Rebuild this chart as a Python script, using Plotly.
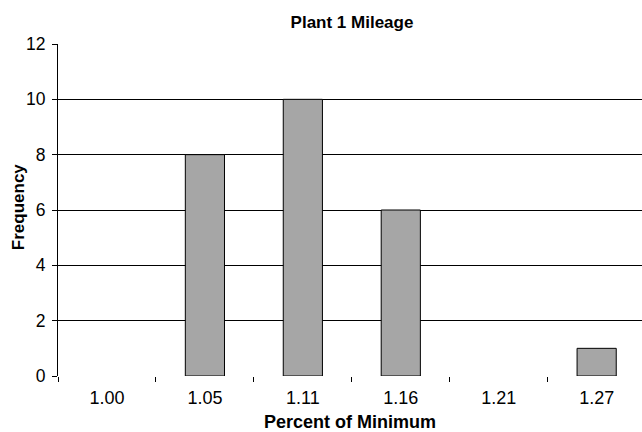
import plotly.graph_objects as go

# Histogram bins (percent of minimum mileage) and their counts
categories = ["1.00", "1.05", "1.11", "1.16", "1.21", "1.27"]
frequency = [0, 8, 10, 6, 0, 1]

chart_title = "Plant 1 Mileage"
x_title = "Percent of Minimum"
y_title = "Frequency"

W, H = 642, 432
L, T, B = 58, 44, 56
FONT = "Liberation Sans, Arial, sans-serif"

# empty bins get no outline so they do not leave a flat stroke on the baseline
outline_widths = [0 if v == 0 else 1 for v in frequency]

fig = go.Figure(
    go.Bar(
        x=categories,
        y=frequency,
        width=0.4,
        marker=dict(color="#a6a6a6", line=dict(color="#000000", width=outline_widths)),
        hoverinfo="x+y",
    )
)

plot_w = W - L
fig.update_layout(
    width=W,
    height=H,
    margin=dict(l=L, r=0, t=T, b=B, pad=0),
    paper_bgcolor="white",
    plot_bgcolor="white",
    showlegend=False,
    font=dict(family=FONT, color="#000000", size=16),
    title=dict(
        text="<b>" + chart_title + "</b>",
        x=(58 + 646) / 2 / W,
        xanchor="center",
        y=1 - 22 / H,
        yanchor="middle",
        yref="container",
        font=dict(size=17, family=FONT, color="#000000"),
    ),
    xaxis=dict(
        type="category",
        range=[-0.5, 5.463],
        tickson="boundaries",
        ticks="outside",
        ticklen=5,
        tickcolor="#000000",
        tickwidth=1,
        ticklabelstandoff=9,
        showline=False,
        showgrid=False,
        zeroline=False,
        tickfont=dict(size=18, family=FONT),
        title=dict(text="<b>" + x_title + "</b>", font=dict(size=18, family=FONT), standoff=12),
    ),
    yaxis=dict(
        range=[0, 12],
        dtick=2,
        ticks="outside",
        ticklen=5,
        tickcolor="#000000",
        tickwidth=1,
        ticklabelstandoff=3,
        showline=True,
        linecolor="#000000",
        linewidth=1,
        showgrid=True,
        gridcolor="#000000",
        gridwidth=1,
        zeroline=False,
        tickfont=dict(size=17.5, family=FONT),
    ),
    annotations=[
        dict(
            text="<b>" + y_title + "</b>",
            textangle=-90,
            xref="paper",
            yref="paper",
            x=(18.5 - L) / plot_w,
            y=0.51,
            xanchor="center",
            yanchor="middle",
            showarrow=False,
            font=dict(size=17, family=FONT, color="#000000"),
        )
    ],
)

fig.write_html("out.html")
